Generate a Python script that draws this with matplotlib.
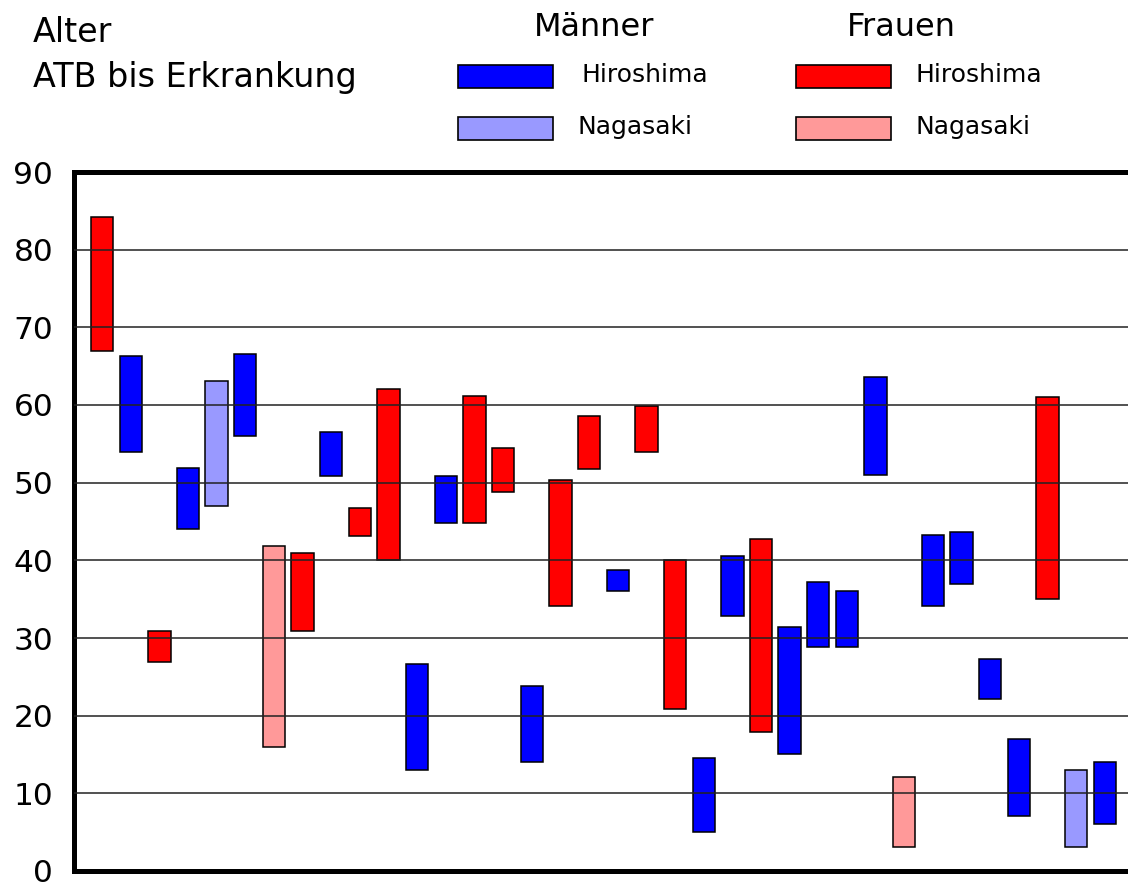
import matplotlib
matplotlib.use("Agg")
import matplotlib.pyplot as plt
from matplotlib.patches import Rectangle

plt.rcParams['font.family'] = ['DejaVu Sans']

# Data: age at exposure (bottom) and age at onset (top), per case
groups = ['FH', 'MH', 'FH', 'MH', 'MN', 'MH', 'FN', 'FH', 'MH', 'FH',
          'FH', 'MH', 'MH', 'FH', 'FH', 'MH', 'FH', 'FH', 'MH', 'FH',
          'FH', 'MH', 'MH', 'FH', 'MH', 'MH', 'MH', 'MH', 'FN', 'MH',
          'MH', 'MH', 'MH', 'FH', 'MN', 'MH']
age_start = [66.9, 54.0, 26.9, 44.0, 47.0, 56.0, 16.0, 30.9, 50.9, 43.1,
             40.0, 13.0, 44.8, 44.8, 48.8, 14.0, 34.1, 51.8, 36.0, 53.9,
             20.9, 5.0, 32.8, 17.9, 15.1, 28.8, 28.8, 51.0, 3.1, 34.1,
             36.9, 22.1, 7.1, 35.0, 3.1, 6.0]
age_end = [84.2, 66.3, 30.9, 51.9, 63.1, 66.6, 41.9, 40.9, 56.5, 46.8,
           62.1, 26.6, 50.9, 61.2, 54.4, 23.8, 50.4, 58.6, 38.8, 59.9,
           40.0, 14.5, 40.5, 42.8, 31.4, 37.2, 36.0, 63.6, 12.1, 43.2,
           43.6, 27.3, 17.0, 61.0, 13.0, 14.0]
y_ticks = [0, 10, 20, 30, 40, 50, 60, 70, 80, 90]

colors = {'MH': '#0000FF', 'MN': '#9999FF', 'FH': '#FF0000', 'FN': '#FF9999'}

W, H = 1128, 885
fig = plt.figure(figsize=(W / 100, H / 100), dpi=100)
ax = fig.add_axes([74 / W, 1 - 871 / H, 1 - 74 / W, (871 - 172) / H])

x = list(range(len(groups)))
heights = [e - s for s, e in zip(age_start, age_end)]
ax.bar(x, heights, bottom=age_start, width=0.78,
       color=[colors[g] for g in groups], edgecolor='black', linewidth=1.1,
       zorder=1)

ax.set_ylim(0, 90)
ax.set_xlim(-0.98, 35.81)
ax.set_yticks(y_ticks)
ax.set_yticklabels([str(t) for t in y_ticks], fontsize=22.5)
ax.set_xticks([])
ax.tick_params(axis='y', length=0, pad=15)

for t in y_ticks[1:-1]:
    ax.axhline(t, color='#222222', linewidth=1.1, zorder=3)

for s in ['left', 'top', 'bottom']:
    ax.spines[s].set_linewidth(3.6)
    ax.spines[s].set_color('black')
ax.spines['right'].set_visible(False)

# Title (axis label) text
fig.text(33 / W, 1 - 33 / H, 'Alter', fontsize=24, ha='left', va='center')
fig.text(33 / W, 1 - 78 / H, 'ATB bis Erkrankung', fontsize=24,
         ha='left', va='center')

# Legend
fig.text(594 / W, 1 - 27 / H, 'Männer', fontsize=23, ha='center', va='center')
fig.text(901 / W, 1 - 27 / H, 'Frauen', fontsize=23, ha='center', va='center')

legend_items = [
    (458, 65, 'MH', 582, 'Hiroshima'),
    (458, 117, 'MN', 578, 'Nagasaki'),
    (796, 65, 'FH', 916, 'Hiroshima'),
    (796, 117, 'FN', 916, 'Nagasaki'),
]
for px, py, key, tx, label in legend_items:
    rect = Rectangle((px / W, 1 - (py + 23) / H), 95 / W, 23 / H,
                     transform=fig.transFigure, facecolor=colors[key],
                     edgecolor='black', linewidth=1.2)
    fig.add_artist(rect)
    fig.text(tx / W, 1 - (py + 10) / H, label, fontsize=18,
             ha='left', va='center')

fig.savefig('out.png', dpi=100)
